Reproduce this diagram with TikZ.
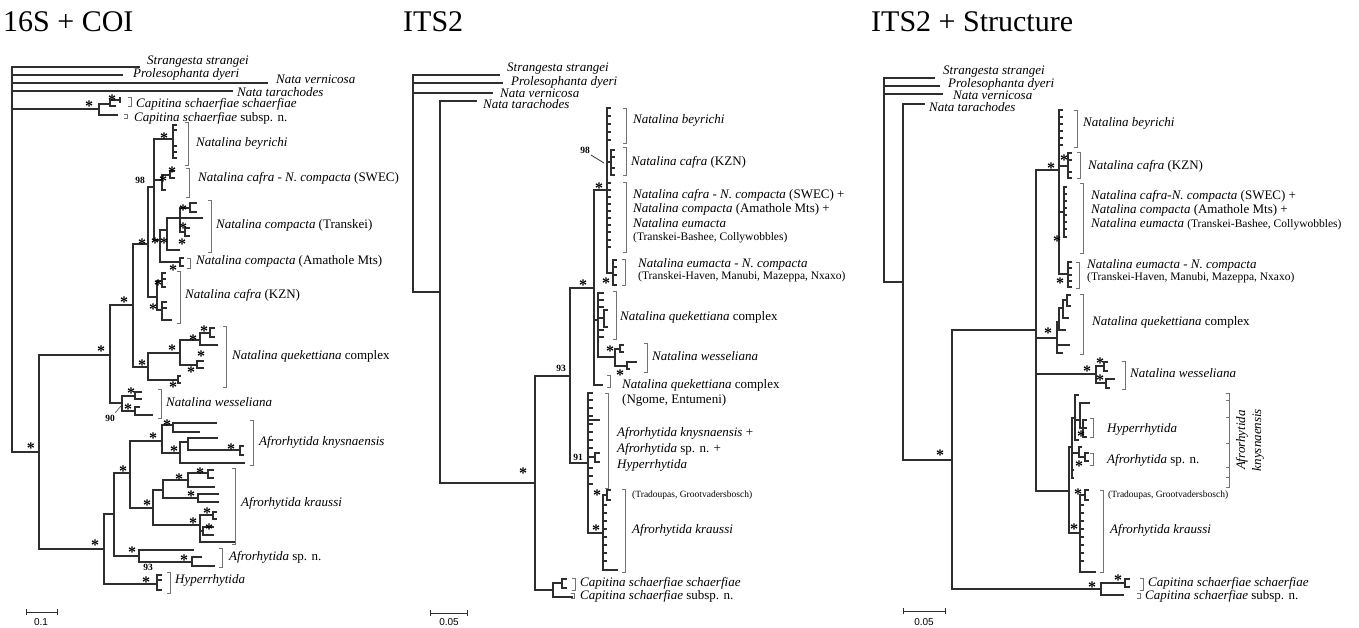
\documentclass[tikz,border=0pt]{standalone}
\usepackage{fontspec}
\setmainfont{Liberation Serif}
\newfontfamily\sansf{Liberation Sans}
\newcommand\nd[4]{\coordinate (#2) at (#3,#4); \draw[br] (#1) |- (#2);}
\newcommand\tips[3]{\foreach \yy [count=\ii] in {#3} {\coordinate (#1-t\ii) at (#2,\yy); \draw[br] (#1) |- (#1-t\ii);}}
\newcommand\bk[3]{\draw[brk] ({#1-3},#2) -- (#1,#2) -- (#1,#3) -- ({#1-3},#3);}
\tikzset{
 br/.style={line width=1.3pt, black!82, line join=miter},
 brk/.style={line width=0.8pt, black!55},
 lab/.style={anchor=west, inner sep=0pt, font=\fontsize{13}{15}\selectfont},
 sml/.style={anchor=west, inner sep=0pt, font=\fontsize{11.5}{13}\selectfont},
 tny/.style={anchor=west, inner sep=0pt, font=\fontsize{9.5}{11}\selectfont},
 st/.style={inner sep=0pt, yshift=-3pt, font=\fontsize{16}{16}\selectfont\bfseries},
 bs/.style={inner sep=0pt, font=\fontsize{9.5}{10}\selectfont\bfseries},
 ttl/.style={anchor=west, inner sep=0pt, font=\fontsize{30}{32}\selectfont},
 sc/.style={inner sep=0pt, font=\sansf\fontsize{10}{11}\selectfont},
}
\begin{document}
\begin{tikzpicture}[x=1pt,y=-1pt]
\useasboundingbox[fill=white] (0,0) rectangle (1359,628);
% titles
\node[ttl] (t1) at (3,22) {16S + COI};
\node[ttl] (t2) at (403,22) {ITS2};
\node[ttl] (t3) at (871,22) {ITS2 + Structure};

%%%%%%%%%%%%%%%% PANEL 1
\coordinate (r1) at (12,260);
\nd{r1}{a1}{140}{67}
\nd{r1}{a2}{123}{75}
\nd{r1}{a3}{268}{83}
\nd{r1}{a4}{233}{91}
\nd{r1}{cap1}{99}{109}
\nd{cap1}{cap1a}{110}{104}
\nd{cap1}{cap1b}{118}{115}
\nd{cap1a}{cap1c}{120}{100}
\nd{cap1a}{cap1d}{116}{106}
\draw[br] (120,97) -- (120,103);
\nd{r1}{ing1}{39}{452}
\nd{ing1}{B1}{110}{355}
\nd{ing1}{F1}{104}{549}
\nd{B1}{C1}{133}{305}
\nd{B1}{W1}{122}{403}
\nd{C1}{D1}{148}{244}
\nd{C1}{Q1}{148}{367}
\nd{D1}{E1}{154}{187}
\nd{D1}{K1}{157}{297}
\nd{E1}{BEY1}{173}{139}
\nd{E1}{SW1}{162}{180}
\nd{E1}{E2}{160}{240}
\tips{BEY1}{177}{125,130,146,152,158}
\nd{SW1}{SWa}{170}{175}
\tips{SWa}{175}{171,178}
\nd{SW1}{SWb}{166}{190}
\nd{E2}{TR1}{167}{230}
\nd{E2}{AM1}{180}{262}
\tips{AM1}{184}{258,266}
\nd{TR1}{TRa}{180}{218}
\nd{TR1}{TRb}{180}{250}
\nd{TRa}{T1}{190}{208}
\tips{T1}{197}{203,212}
\nd{TRa}{T2}{203}{218}
\nd{TRa}{T3}{185}{232}
\tips{T3}{190}{228,236}
\nd{K1}{K1a}{162}{281}
\nd{K1}{K1b}{162}{310}
\tips{K1a}{166}{273,279,287}
\tips{K1b}{167}{302,308}
\nd{K1b}{K1d}{172}{320}
\nd{Q1}{Q2}{180}{353}
\nd{Q1}{Q3}{178}{380}
\tips{Q3}{181}{376,383}
\nd{Q2}{Q4}{200}{340}
\nd{Q2}{Q5}{197}{365}
\nd{Q4}{Q6}{210}{333}
\nd{Q4}{Q7}{218}{345}
\tips{Q6}{215}{328,337}
\tips{Q5}{204}{361,368}
\nd{W1}{W2}{135}{396}
\nd{W1}{W3}{135}{411}
\tips{W2}{142}{392,399}
\nd{W3}{W4}{153}{415}
\nd{W3}{W5}{140}{407}
\nd{F1}{G1}{114}{514}
\nd{F1}{HY1}{157}{584}
\tips{HY1}{162}{575,580,590}
\nd{G1}{H1}{130}{473}
\nd{G1}{SP1}{139}{556}
\nd{H1}{KN1}{162}{441}
\nd{H1}{KR1}{153}{508}
\nd{KN1}{KNa}{173}{425}
\nd{KN1}{KNb}{180}{453}
\nd{KNa}{KNa1}{217}{423}
\nd{KNa}{KNa2}{200}{432}
\nd{KNb}{KNc}{188}{442}
\nd{KNb}{KNe}{245}{463}
\nd{KNc}{KNc1}{218}{438}
\nd{KNc}{KNd}{240}{450}
\tips{KNd}{244}{446,455}
\nd{KR1}{M1}{163}{490}
\nd{KR1}{M2}{200}{525}
\nd{M1}{M3}{188}{480}
\nd{M1}{M4}{198}{498}
\nd{M3}{M5}{208}{473}
\nd{M3}{M6}{215}{487}
\tips{M5}{214}{470,478}
\tips{M4}{219}{494,502}
\nd{M2}{M7}{213}{515}
\nd{M2}{M8}{203}{531}
\nd{M2}{M9}{236}{542}
\tips{M7}{217}{512,519}
\tips{M8}{214}{527,535}
\nd{SP1}{SPa}{194}{550}
\nd{SP1}{SPb}{192}{562}
\nd{SPb}{SPc}{202}{557}
\nd{SPb}{SPd}{215}{566}
% stars panel 1
\foreach \x/\y [count=\i] in {89/103,112/97,164/135,172/169,163/178,183/207,183/225,155/240,164/240,182/241,142/241,173/267,158/282,153/306,124/299,101/348,204/328,193/337,172/347,201/353,142/362,191/369,173/384,131/390,128/406,31/445,167/422,153/435,174/448,231/446,123/468,147/502,179/476,200/470,191/493,207/510,193/520,209/526,132/549,184/557,95/542,146/579}
  \node[st] (sa\i) at (\x,\y) {*};
\node[bs] (n98a) at (140,180) {98};
\node[bs] (n90) at (110,418) {90};
\coordinate (n90e) at (121,406);
\draw[black!70, line width=0.6pt] (n90) ++(5,-5) -- (n90e);
\node[bs] (n93a) at (148,567) {93};
% brackets panel 1
\bk{131}{97}{106}
\bk{127}{114}{118}
\bk{188}{122}{165}
\bk{189}{168}{197}
\bk{211}{200}{252}
\bk{190}{258}{268}
\bk{180}{271}{323}
\bk{226}{326}{387}
\bk{161}{389}{418}
\bk{253}{420}{465}
\bk{235}{468}{544}
\bk{222}{548}{567}
\bk{170}{572}{593}
% labels panel 1
\node[lab] (la1) at (147,62) {\textit{Strangesta strangei}};
\node[lab] (la2) at (133,74) {\textit{Prolesophanta dyeri}};
\node[lab] (la3) at (276,79) {\textit{Nata vernicosa}};
\node[lab] (la4) at (237,92) {\textit{Nata tarachodes}};
\node[lab] (la5) at (136,104) {\textit{Capitina schaerfiae schaerfiae}};
\node[lab] (la6) at (134,118) {\textit{Capitina schaerfiae} subsp. n.};
\node[lab] (la7) at (196,143) {\textit{Natalina beyrichi}};
\node[lab] (la8) at (198,178) {\textit{Natalina cafra - N. compacta} (SWEC)};
\node[lab] (la9) at (216,225) {\textit{Natalina compacta} (Transkei)};
\node[lab] (la10) at (196,261) {\textit{Natalina compacta} (Amathole Mts)};
\node[lab] (la11) at (185,295) {\textit{Natalina cafra} (KZN)};
\node[lab] (la12) at (232,356) {\textit{Natalina quekettiana} complex};
\node[lab] (la13) at (166,402) {\textit{Natalina wesseliana}};
\node[lab] (la14) at (259,442) {\textit{Afrorhytida knysnaensis}};
\node[lab] (la15) at (241,503) {\textit{Afrorhytida kraussi}};
\node[lab] (la16) at (229,557) {\textit{Afrorhytida} sp. n.};
\node[lab] (la17) at (175,580) {\textit{Hyperrhytida}};
% scale 1
\coordinate (sb1a) at (26,612); \coordinate (sb1b) at (57,612);
\draw[br,line width=1pt] (sb1a) -- (sb1b);
\draw[br,line width=1pt] (26,609) -- (26,615) (57,609) -- (57,615);
\node[sc] (sl1) at (41,622) {0.1};

%%%%%%%%%%%%%%%% PANEL 2
\coordinate (r2) at (413,180);
\nd{r2}{b1}{500}{75}
\nd{r2}{b2}{503}{83}
\nd{r2}{b3}{493}{93}
\nd{r2}{N2}{440}{292}
\nd{N2}{b4}{477}{101}
\nd{N2}{N3}{535}{483}
\nd{N3}{N4}{570}{376}
\nd{N3}{CP2}{553}{590}
\nd{CP2}{CP2a}{562}{583}
\nd{CP2}{CP2b}{573}{597}
\tips{CP2a}{567}{579,588}
\nd{N4}{N5}{594}{288}
\nd{N4}{N6}{588}{463}
\nd{N5}{U2}{607}{190}
\nd{N5}{QK2}{598}{320}
\nd{N5}{Ng2}{603}{385}
\tips{U2}{611}{108,116,124,132,140,183,190,197,204,211,218,225,232,240,247}
\nd{U2}{KZ2}{611}{162}
\tips{KZ2}{615}{150,157,168,175}
\nd{U2}{EU2}{613}{273}
\tips{EU2}{617}{260,267,275,285}
\tips{QK2}{604}{293,300,307,330,337}
\nd{QK2}{QKa}{604}{318}
\tips{QKa}{608}{310,327}
\nd{QK2}{WE2}{615}{357}
\nd{WE2}{WEa}{620}{349}
\nd{WE2}{WEb}{627}{366}
\tips{WEa}{624}{345,352}
\nd{WEb}{WEc}{637}{362}
\nd{WEb}{WEd}{630}{369}
\tips{N6}{593}{393,400,408,416,424,432,440,448,468,476,484}
\nd{N6}{T420}{600}{420}
\nd{N6}{AK2}{595}{457}
\tips{AK2}{600}{453,462}
\nd{N6}{KR2}{603}{533}
\nd{KR2}{KRa2}{607}{495}
\tips{KRa2}{611}{490,500}
\tips{KR2}{607}{505,513,521,529,537,545,553,561}
\nd{KR2}{KRz2}{618}{570}
\foreach \x/\y [count=\i] in {523/470,583/282,599/185,606/280,610/348,620/372,597/492,596/527}
  \node[st] (sb\i) at (\x,\y) {*};
\node[bs] (n98b) at (585,150) {98};
\coordinate (n98e) at (604,163);
\draw[black!80, line width=0.8pt] (n98b) ++(6,5) -- (n98e);
\node[bs] (n93b) at (561,368) {93};
\node[bs] (n91) at (578,457) {91};
% brackets panel 2
\bk{575}{578}{590}
\bk{574}{593}{598}
\bk{626}{108}{143}
\bk{626}{147}{175}
\bk{626}{182}{252}
\bk{625}{259}{285}
\bk{616}{291}{339}
\bk{647}{343}{372}
\bk{610}{375}{387}
\bk{608}{393}{488}
\bk{625}{489}{572}
% labels panel 2
\node[lab] (lb1) at (507,69) {\textit{Strangesta strangei}};
\node[lab] (lb2) at (511,82) {\textit{Prolesophanta dyeri}};
\node[lab] (lb3) at (500,93) {\textit{Nata vernicosa}};
\node[lab] (lb4) at (483,104) {\textit{Nata tarachodes}};
\node[lab] (lb5) at (580,583) {\textit{Capitina schaerfiae schaerfiae}};
\node[lab] (lb6) at (580,596) {\textit{Capitina schaerfiae} subsp. n.};
\node[lab] (lb7) at (633,120) {\textit{Natalina beyrichi}};
\node[lab] (lb8) at (631,162) {\textit{Natalina cafra} (KZN)};
\node[lab] (lb9) at (633,195) {\textit{Natalina cafra - N. compacta} (SWEC) +};
\node[lab] (lb10) at (633,209) {\textit{Natalina compacta} (Amathole Mts) +};
\node[lab] (lb11) at (633,223) {\textit{Natalina eumacta}};
\node[sml] (lb12) at (633,238) {(Transkei-Bashee, Collywobbles)};
\node[lab] (lb13) at (638,264) {\textit{Natalina eumacta - N. compacta}};
\node[sml] (lb14) at (638,277) {(Transkei-Haven, Manubi, Mazeppa, Nxaxo)};
\node[lab] (lb15) at (620,317) {\textit{Natalina quekettiana} complex};
\node[lab] (lb16) at (652,356) {\textit{Natalina wesseliana}};
\node[lab] (lb17) at (622,385) {\textit{Natalina quekettiana} complex};
\node[lab] (lb18) at (622,400) {(Ngome, Entumeni)};
\node[lab] (lb19) at (617,433) {\textit{Afrorhytida knysnaensis} +};
\node[lab] (lb20) at (617,449) {\textit{Afrorhytida} sp. n. +};
\node[lab] (lb21) at (617,465) {\textit{Hyperrhytida}};
\node[tny] (lb22) at (632,495) {(Tradoupas, Grootvadersbosch)};
\node[lab] (lb23) at (632,530) {\textit{Afrorhytida kraussi}};
% scale 2
\coordinate (sb2a) at (430,613); \coordinate (sb2b) at (467,613);
\draw[br,line width=1pt] (sb2a) -- (sb2b);
\draw[br,line width=1pt] (430,610) -- (430,616) (467,610) -- (467,616);
\node[sc] (sl2) at (449,622) {0.05};

%%%%%%%%%%%%%%%% PANEL 3
\coordinate (r3) at (884,180);
\nd{r3}{c1}{935}{78}
\nd{r3}{c2}{940}{86}
\nd{r3}{c3}{943}{94}
\nd{r3}{P2}{903}{282}
\nd{P2}{c4}{925}{104}
\nd{P2}{P3}{952}{460}
\nd{P3}{P4}{1036}{330}
\nd{P3}{PC}{1101}{589}
\nd{PC}{PCa}{1125}{583}
\nd{PC}{PCb}{1124}{595}
\tips{PCa}{1130}{579,587}
\nd{P4}{P5}{1059}{170}
\nd{P4}{PQ}{1057}{338}
\nd{P4}{PW}{1096}{374}
\nd{P4}{P6}{1069}{491}
\tips{P5}{1063}{110,117,124,131,138,145}
\nd{P5}{PK}{1068}{166}
\tips{PK}{1072}{153,160,172,178}
\nd{P5}{PS}{1064}{212}
\tips{PS}{1067}{187,194,201,208,215,222,229,237}
\nd{P5}{PE}{1068}{274}
\tips{PE}{1072}{262,268,275,281,287}
\nd{PQ}{PQa}{1059}{322}
\nd{PQ}{PQx}{1070}{345}
\nd{PQ}{PQy}{1063}{353}
\nd{PQa}{PQb}{1063}{308}
\nd{PQa}{PQz}{1066}{330}
\nd{PQb}{PQc}{1067}{300}
\nd{PQb}{PQw}{1069}{318}
\tips{PQc}{1071}{295,306}
\nd{PW}{PWa}{1104}{366}
\nd{PW}{PWb}{1106}{383}
\tips{PWa}{1108}{362,371}
\nd{PWb}{PWc}{1115}{379}
\nd{PWb}{PWd}{1110}{388}
\nd{P6}{PH}{1072}{447}
\nd{P6}{PKR}{1080}{533}
\nd{PH}{PHa}{1075}{418}
\nd{PH}{PSP}{1079}{453}
\nd{PH}{PHt1}{1074}{470}
\nd{PH}{PHt2}{1074}{478}
\nd{PHa}{PHt3}{1079}{395}
\nd{PHa}{PHb}{1080}{420}
\nd{PHa}{PHt4}{1079}{440}
\nd{PHb}{PHt5}{1090}{403}
\nd{PHb}{PHc}{1083}{428}
\tips{PHc}{1087}{420,428,437}
\nd{PSP}{PSPa}{1085}{457}
\nd{PSP}{PSPt}{1082}{447}
\tips{PSPa}{1089}{453,461}
\nd{PKR}{PKa}{1085}{495}
\tips{PKa}{1089}{490,500}
\tips{PKR}{1084}{505,513,521,529,537,545,553,561}
\nd{PKR}{PKz}{1096}{572}
\foreach \x/\y [count=\i] in {940/452,1092/584,1118/577,1051/165,1064/157,1057/238,1060/280,1048/330,1087/368,1100/360,1100/377,1081/433,1079/463,1078/491,1074/526}
  \node[st] (sc\i) at (\x,\y) {*};
% brackets panel 3
\bk{1143}{578}{590}
\bk{1140}{593}{598}
\bk{1077}{110}{147}
\bk{1080}{152}{178}
\bk{1083}{183}{253}
\bk{1079}{262}{288}
\bk{1083}{294}{354}
\bk{1125}{361}{389}
\bk{1093}{418}{437}
\bk{1093}{453}{465}
\bk{1103}{490}{572}
\bk{1229}{393}{487}
\foreach \y in {400,417,443,467,477} \draw[brk] (1226,\y) -- (1229,\y);
% labels panel 3
\node[lab] (lc1) at (943,72) {\textit{Strangesta strangei}};
\node[lab] (lc2) at (948,84) {\textit{Prolesophanta dyeri}};
\node[lab] (lc3) at (953,95) {\textit{Nata vernicosa}};
\node[lab] (lc4) at (929,107) {\textit{Nata tarachodes}};
\node[lab] (lc5) at (1148,583) {\textit{Capitina schaerfiae schaerfiae}};
\node[lab] (lc6) at (1145,596) {\textit{Capitina schaerfiae} subsp. n.};
\node[lab] (lc7) at (1083,123) {\textit{Natalina beyrichi}};
\node[lab] (lc8) at (1088,166) {\textit{Natalina cafra} (KZN)};
\node[lab] (lc9) at (1091,196) {\textit{Natalina cafra-N. compacta} (SWEC) +};
\node[lab] (lc10) at (1091,210) {\textit{Natalina compacta} (Amathole Mts) +};
\node[lab] (lc11) at (1091,224) {\textit{Natalina eumacta} {\fontsize{11.5}{13}\selectfont(Transkei-Bashee, Collywobbles)}};
\node[lab] (lc12) at (1087,265) {\textit{Natalina eumacta - N. compacta}};
\node[sml] (lc13) at (1087,278) {(Transkei-Haven, Manubi, Mazeppa, Nxaxo)};
\node[lab] (lc14) at (1092,322) {\textit{Natalina quekettiana} complex};
\node[lab] (lc15) at (1130,373) {\textit{Natalina wesseliana}};
\node[lab] (lc16) at (1107,429) {\textit{Hyperrhytida}};
\node[lab] (lc17) at (1107,460) {\textit{Afrorhytida} sp. n.};
\node[tny] (lc18) at (1108,495) {(Tradoupas, Grootvadersbosch)};
\node[lab] (lc19) at (1110,530) {\textit{Afrorhytida kraussi}};
\node[rotate=90, align=center, inner sep=0pt, font=\fontsize{13}{16}\selectfont\itshape] (lc20) at (1250,440) {Afrorhytida\\knysnaensis};
% scale 3
\coordinate (sb3a) at (903,611); \coordinate (sb3b) at (945,611);
\draw[br,line width=1pt] (sb3a) -- (sb3b);
\draw[br,line width=1pt] (903,608) -- (903,614) (945,608) -- (945,614);
\node[sc] (sl3) at (924,622) {0.05};
\end{tikzpicture}
\end{document}
